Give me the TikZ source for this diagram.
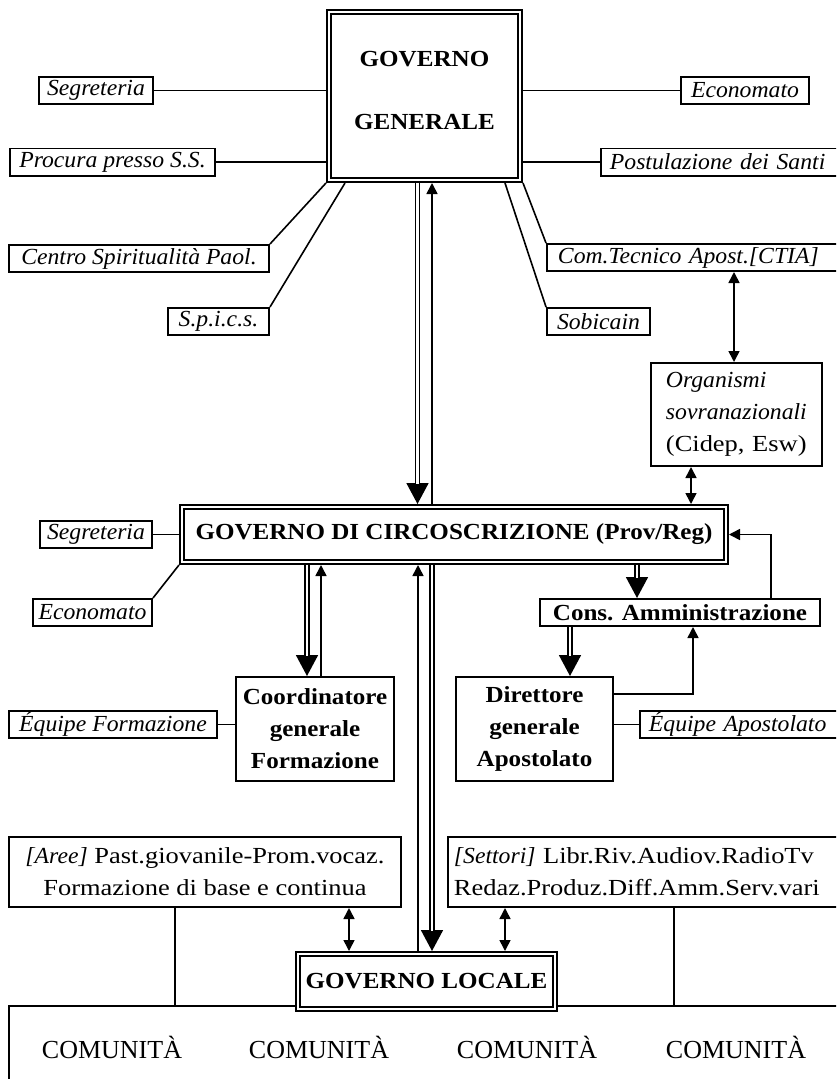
\documentclass[tikz,border=0pt]{standalone}
\usepackage{fontspec}
\setmainfont{Liberation Serif}[
  UprightFeatures={FakeStretch=1.15},
  BoldFeatures={FakeStretch=1.09},
  ItalicFeatures={FakeStretch=1.03}]
\newfontfamily\comfont{Liberation Serif}[FakeStretch=1.0]
\usetikzlibrary{arrows.meta,calc}

\tikzset{
  box/.style={draw, line width=1.9pt, fill=white, inner sep=0pt,
    minimum height=27.1pt, font=\fontsize{23}{27}\selectfont\itshape},
  leftbox/.style={box, align=left, inner xsep=#1},
  bigbox/.style={draw, line width=1.9pt, fill=white, inner sep=0pt, align=center,
    font=\bfseries\fontsize{23}{32}\selectfont},
  mainbox/.style={draw, line width=1.9pt, double, double distance=2pt, fill=white,
    outer sep=2.9pt, inner sep=0pt, align=center,
    font=\bfseries\fontsize{23}{27}\selectfont, minimum height=55.2pt},
  link/.style={line width=1.6pt},
  arr/.style={line width=1.6pt, -{Triangle[width=11pt,length=11pt]}},
  darr/.style={line width=1.6pt, {Triangle[width=11pt,length=11pt]}-{Triangle[width=11pt,length=11pt]}},
  bigarr/.style={line width=1.7pt, -{Triangle[width=22pt,length=21pt]},
    postaction={draw, -, double, double distance=2.2pt, line width=1.7pt, shorten >=20pt}},
  comm/.style={font=\comfont\fontsize{26}{30}\selectfont, inner sep=0pt}
}

\begin{document}
\begin{tikzpicture}[x=1pt, y=-1pt]
\useasboundingbox (0,0) rectangle (836,1079);
\clip (0,0) rectangle (836,1079);

% x positions of the vertical connectors
\coordinate (xa) at (417.5,0);
\coordinate (xb) at (432,0);
\coordinate (xc) at (307,0);
\coordinate (xd) at (321,0);
\coordinate (xe) at (637,0);
\coordinate (xf) at (570,0);
\coordinate (xh) at (418,0);
\coordinate (xi) at (734,0);
\coordinate (xj) at (691,0);
\coordinate (xk) at (349,0);
\coordinate (xl) at (505,0);
\coordinate (xm) at (175,0);
\coordinate (xn) at (674,0);
\coordinate (xo) at (771,0);
\coordinate (xp) at (693,0);
\coordinate (xq) at (345,0);
\coordinate (xr) at (505,0);
\coordinate (yd) at (0,694);

% communities frame (drawn first, the local government box sits on its top edge)
\node[draw, line width=1.6pt, minimum width=835pt, minimum height=94pt, inner sep=0pt] (comunita) at (426.5,1053) {};
\node[comm] (com1) at (112,1047) {COMUNITÀ};
\node[comm] (com2) at (319,1047) {COMUNITÀ};
\node[comm] (com3) at (527,1047) {COMUNITÀ};
\node[comm] (com4) at (736,1047) {COMUNITÀ};

% general government
\node[mainbox, minimum width=191.2pt, minimum height=168.2pt, text depth=11pt] (gg) at (424.5,96) {GOVERNO\\[36pt]GENERALE};

\node[box, minimum width=114.1pt] (segg) at (96,90.5) {Segreteria};
\node[box, minimum width=205.1pt] (procura) at (112.5,162) {Procura presso S.S.};
\node[box, minimum width=260.1pt] (centro) at (139,258.5) {Centro Spiritualità Paol.};
\node[box, minimum width=101.1pt] (spics) at (218.5,321.5) {S.p.i.c.s.};
\node[box, minimum width=128.1pt] (econg) at (745,90.5) {Economato};
\node[leftbox=9pt, text width=225.1pt] (postul) at (722.5,162) {Postulazione dei Santi};
\node[leftbox=11pt, text width=275.1pt] (ctia) at (695.5,257.5) {Com.Tecnico Apost.[CTIA]};
\node[box, minimum width=103.1pt] (sobicain) at (598.5,321.5) {Sobicain};

\draw[link] (segg.east) -- (segg.east -| gg.west);
\draw[link] (procura.east) -- (procura.east -| gg.west);
\draw[link] (econg.west) -- (econg.west -| gg.east);
\draw[link] (postul.west) -- (postul.west -| gg.east);
\draw[link] (centro.north east) -- (gg.south west);
\draw[link] (spics.north east) -- (gg.south -| xq);
\draw[link] (ctia.north west) -- (gg.south east);
\draw[link] (sobicain.north west) -- (gg.south -| xr);

% supranational bodies
\node[box, align=left, inner xsep=15pt, text width=141.1pt, minimum height=103.1pt,
  font=\fontsize{23}{32}\selectfont] (organismi) at (736.5,414.5)
  {\textit{Organismi}\\\textit{sovranazionali}\\(Cidep, Esw)};

% circumscription government
\node[mainbox, minimum width=544.2pt] (circ) at (454,534.5) {GOVERNO DI CIRCOSCRIZIONE (Prov/Reg)};
\node[box, minimum width=112.1pt] (segc) at (96,534.5) {Segreteria};
\node[box, minimum width=119.1pt] (econc) at (92.5,612.5) {Economato};
\draw[link] (segc.east) -- (segc.east -| circ.west);
\draw[link] (econc.north east) -- (circ.south west);

\draw[bigarr] (gg.south -| xa) -- (circ.north -| xa);
\draw[arr] (circ.north -| xb) -- (gg.south -| xb);
\draw[darr] (ctia.south -| xi) -- (organismi.north -| xi);
\draw[darr] (organismi.south -| xj) -- (circ.north -| xj);

% administration and apostolate
\node[box, minimum width=280.1pt, font=\bfseries\fontsize{23}{27}\selectfont] (cons) at (680,612.5) {Cons. Amministrazione};
\node[bigbox, minimum width=157.1pt, minimum height=104.1pt] (direttore) at (534.5,729) {Direttore\\generale\\Apostolato};
\node[leftbox=9pt, text width=186.1pt] (equipea) at (742,724.5) {Équipe Apostolato};

\draw[bigarr] (circ.south -| xe) -- (cons.north -| xe);
\draw[arr] (cons.north -| xo) |- (circ.east);
\draw[bigarr] (cons.south -| xf) -- (direttore.north -| xf);
\draw[arr] (direttore.east |- yd) -| (cons.south -| xp);
\draw[link] (equipea.west) -- (equipea.west -| direttore.east);

% formation
\node[bigbox, minimum width=158.1pt, minimum height=104.1pt] (coord) at (315,729) {Coordinatore\\generale\\Formazione};
\node[box, minimum width=208.1pt] (equipef) at (113,724.5) {Équipe Formazione};
\draw[link] (equipef.east) -- (equipef.east -| coord.west);
\draw[bigarr] (circ.south -| xc) -- (coord.north -| xc);
\draw[arr] (coord.north -| xd) -- (circ.south -| xd);

% areas and sectors
\node[box, align=center, minimum width=392.1pt, minimum height=70.1pt,
  font=\fontsize{23}{32}\selectfont] (aree) at (205,872)
  {\textit{[Aree]} Past.giovanile-Prom.vocaz.\\Formazione di base e continua};
\node[box, align=left, inner xsep=6pt, text width=384.1pt, minimum height=70.1pt,
  font=\fontsize{23}{32}\selectfont] (settori) at (646,872)
  {\textit{[Settori]} Libr.Riv.Audiov.RadioTv\\Redaz.Produz.Diff.Amm.Serv.vari};
\draw[link] (aree.south -| xm) -- (comunita.north -| xm);
\draw[link] (settori.south -| xn) -- (comunita.north -| xn);

% local government
\node[mainbox, minimum width=257.2pt] (gl) at (426.5,981.5) {GOVERNO LOCALE};
\draw[bigarr] (circ.south -| xb) -- (gl.north -| xb);
\draw[arr] (gl.north -| xh) -- (circ.south -| xh);
\draw[darr] (aree.south -| xk) -- (gl.north -| xk);
\draw[darr] (settori.south -| xl) -- (gl.north -| xl);
\end{tikzpicture}
\end{document}
